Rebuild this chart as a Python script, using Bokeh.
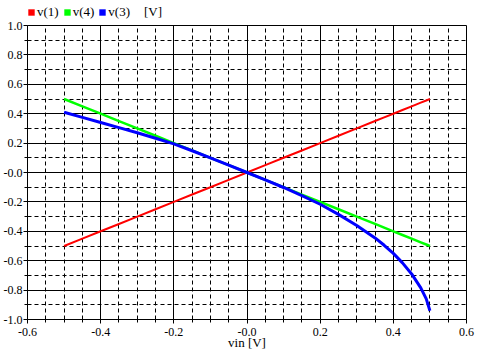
from bokeh.plotting import figure
from bokeh.layouts import column
from bokeh.models import Range1d, FixedTicker, CustomJSTickFormatter, Legend, LegendItem
from bokeh.embed import file_html
from bokeh.resources import INLINE

# ---- data ----
vin = [-0.5, -0.45, -0.4, -0.35, -0.3, -0.25, -0.2, -0.15, -0.1, -0.05, 0.0,
       0.05, 0.1, 0.15, 0.2, 0.25, 0.3, 0.35, 0.375, 0.4, 0.425, 0.45, 0.475, 0.49, 0.5]
v1 = [-0.5, -0.45, -0.4, -0.35, -0.3, -0.25, -0.2, -0.15, -0.1, -0.05, 0.0,
      0.05, 0.1, 0.15, 0.2, 0.25, 0.3, 0.35, 0.375, 0.4, 0.425, 0.45, 0.475, 0.49, 0.5]
v4 = [0.5, 0.45, 0.4, 0.35, 0.3, 0.25, 0.2, 0.15, 0.1, 0.05, 0.0,
      -0.05, -0.1, -0.15, -0.2, -0.25, -0.3, -0.35, -0.375, -0.4, -0.425, -0.45, -0.475, -0.49, -0.5]
v3 = [0.41, 0.375, 0.34, 0.305, 0.27, 0.233, 0.195, 0.148, 0.099, 0.05, 0.0,
      -0.05, -0.102, -0.157, -0.216, -0.285, -0.36, -0.445, -0.495, -0.55, -0.615, -0.69, -0.785, -0.86, -0.94]

series_labels = ["v(1)", "v(4)", "v(3)"]
series_colors = ["#ff0000", "#00ff00", "#0000ff"]
unit_label = "[V]"
x_axis_label = "vin [V]"

x_ticks = [-0.6, -0.4, -0.2, 0.0, 0.2, 0.4, 0.6]
x_tick_labels = ["-0.6", "-0.4", "-0.2", "-0.0", "0.2", "0.4", "0.6"]
x_minor_ticks = [-0.55, -0.5, -0.45, -0.35, -0.3, -0.25, -0.15, -0.1, -0.05,
                 0.05, 0.1, 0.15, 0.25, 0.3, 0.35, 0.45, 0.5, 0.55]
y_ticks = [-1.0, -0.8, -0.6, -0.4, -0.2, 0.0, 0.2, 0.4, 0.6, 0.8, 1.0]
y_tick_labels = ["-1.0", "-0.8", "-0.6", "-0.4", "-0.2", "-0.0", "0.2", "0.4", "0.6", "0.8", "1.0"]
y_minor_ticks = [-0.9, -0.7, -0.5, -0.3, -0.1, 0.1, 0.3, 0.5, 0.7, 0.9]

FONT = "Liberation Serif"
W = 476
xr = Range1d(-0.6, 0.6)

# ---------------- legend strip ----------------
lg = figure(width=W, height=20, output_backend="svg", toolbar_location=None,
            x_range=xr, y_range=Range1d(0, 1), x_axis_type=None, y_axis_type=None,
            min_border_left=23, min_border_right=10, min_border_top=0, min_border_bottom=0,
            background_fill_color="white", border_fill_color="white", outline_line_color=None)
lg.xgrid.visible = False
lg.ygrid.visible = False

swatches = []
for ys, col in zip([v1, v4, v3], series_colors):
    # zero-area quads: only used to give the legend its colour swatch
    swatches.append(lg.quad(left=vin, right=vin, bottom=ys, top=ys,
                            fill_color=col, line_color=None))
blank = lg.quad(left=vin, right=vin, bottom=v1, top=v1, fill_alpha=0, line_alpha=0)

items = [LegendItem(label=lab, renderers=[r]) for lab, r in zip(series_labels, swatches)]
items.append(LegendItem(label=unit_label, renderers=[blank]))
legend = Legend(items=items, location="bottom_left", orientation="horizontal",
                glyph_width=8, glyph_height=8, label_standoff=2, spacing=4,
                padding=0, margin=0, border_line_color=None, background_fill_alpha=0,
                label_text_font=FONT, label_text_font_size="13px", label_text_color="black",
                label_height=13, label_width=10)
lg.add_layout(legend, "center")

# ---------------- main plot ----------------
p = figure(width=W, height=332, output_backend="svg", toolbar_location=None,
           x_range=xr, y_range=Range1d(-1.0, 1.0),
           min_border_left=23, min_border_top=5, min_border_right=10, min_border_bottom=29,
           background_fill_color="white", border_fill_color="white")

p.outline_line_color = "black"
p.outline_line_width = 1
p.outline_line_alpha = 1.0

fmt_code = """
let best = 0; let d = Infinity;
for (let i = 0; i < tvals.length; i++) {
  const e = Math.abs(tvals[i] - tick);
  if (e < d) { d = e; best = i; }
}
return tlabels[best];
"""

xt = FixedTicker(ticks=x_ticks, minor_ticks=x_minor_ticks)
yt = FixedTicker(ticks=y_ticks, minor_ticks=y_minor_ticks)
p.xaxis.ticker = xt
p.yaxis.ticker = yt
p.xgrid.ticker = xt
p.ygrid.ticker = yt
p.xaxis.formatter = CustomJSTickFormatter(args=dict(tvals=x_ticks, tlabels=x_tick_labels), code=fmt_code)
p.yaxis.formatter = CustomJSTickFormatter(args=dict(tvals=y_ticks, tlabels=y_tick_labels), code=fmt_code)

for ax in (p.xaxis, p.yaxis):
    ax.axis_line_color = "black"
    ax.major_tick_line_color = "black"
    ax.minor_tick_line_color = "black"
    ax.major_tick_out = 4
    ax.major_tick_in = 0
    ax.minor_tick_out = 3
    ax.minor_tick_in = 3
    ax.major_label_text_font = FONT
    ax.major_label_text_font_size = "12px"
    ax.major_label_text_color = "black"
    ax.major_label_text_line_height = 1.0
p.xaxis.major_label_standoff = 4
p.yaxis.major_label_standoff = 1

p.xaxis.axis_label = x_axis_label
p.xaxis.axis_label_text_font = FONT
p.xaxis.axis_label_text_font_style = "normal"
p.xaxis.axis_label_text_font_size = "13px"
p.xaxis.axis_label_text_color = "black"
p.xaxis.axis_label_text_line_height = 1.0
p.xaxis.axis_label_standoff = -4

for g in (p.xgrid, p.ygrid):
    g.grid_line_color = "black"
    g.grid_line_width = 1
    g.grid_line_alpha = 1.0
    g.minor_grid_line_color = "black"
    g.minor_grid_line_width = 1
    g.minor_grid_line_dash = "4 3"

p.line(vin, v1, line_color=series_colors[0], line_width=2)
p.line(vin, v4, line_color=series_colors[1], line_width=2.5)
p.line(vin, v3, line_color=series_colors[2], line_width=3)

layout = column(lg, p, spacing=0)
open("out.html", "w").write(file_html(layout, INLINE))
